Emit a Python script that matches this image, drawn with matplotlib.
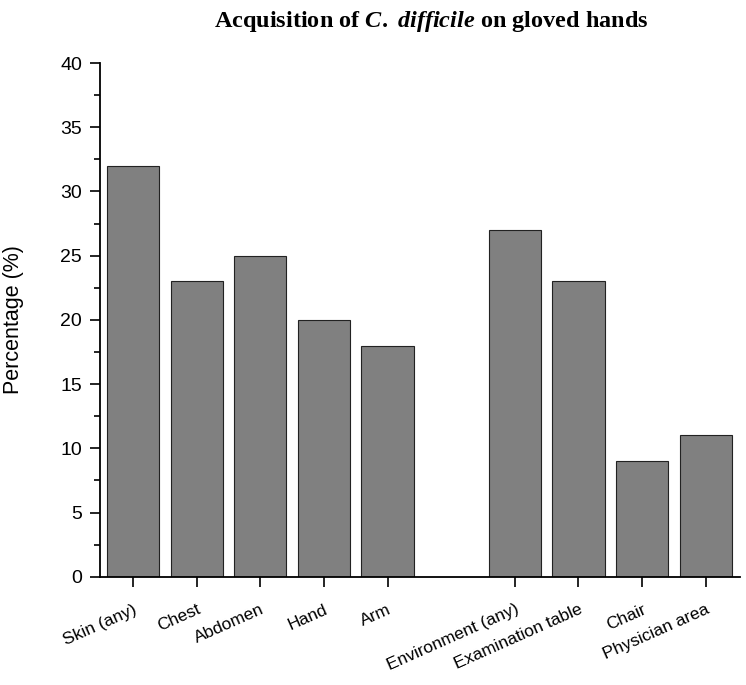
import matplotlib
matplotlib.use("Agg")
import matplotlib.pyplot as plt
from matplotlib.ticker import MultipleLocator

categories = ["Skin (any)", "Chest", "Abdomen", "Hand", "Arm",
              "Environment (any)", "Examination table", "Chair", "Physician area"]
positions = [0, 1, 2, 3, 4, 6, 7, 8, 9]
percent = [32, 23, 25, 20, 18, 27, 23, 9, 11]

plt.rcParams['font.family'] = ['Liberation Sans', 'DejaVu Sans']
plt.rcParams['mathtext.fontset'] = 'custom'
plt.rcParams['mathtext.rm'] = 'Liberation Serif:bold'
plt.rcParams['mathtext.it'] = 'Liberation Serif:italic:bold'

fig = plt.figure(figsize=(7.46, 6.85), dpi=100)
ax = fig.add_axes([0.134, 0.158, 0.858, 0.75])

ax.bar(positions, percent, width=0.82, color="#808080", edgecolor="#222222", linewidth=0.8)

ax.set_xlim(-0.52, 9.54)
ax.set_ylim(0, 40)
ax.yaxis.set_major_locator(MultipleLocator(5))
ax.yaxis.set_minor_locator(MultipleLocator(2.5))
ax.set_xticks(positions)
ax.set_xticklabels(categories, rotation=24, ha="right", rotation_mode="anchor", fontsize=12.5)

for s in ["top", "right"]:
    ax.spines[s].set_visible(False)
for s in ["left", "bottom"]:
    ax.spines[s].set_linewidth(1.3)

ax.tick_params(axis="y", which="major", direction="out", length=7, width=1.2, labelsize=14, pad=6)
ax.tick_params(axis="y", which="minor", direction="out", length=4, width=1.2)
ax.tick_params(axis="x", which="major", direction="out", length=7, width=1.2, pad=11)

ax.set_ylabel("Percentage (%)", fontsize=15.5, labelpad=26)

fig.text(0.578, 0.968, r"Acquisition of $\mathit{C.\ difficile}$ on gloved hands",
         ha="center", va="center", fontsize=17.5, family="Liberation Serif", weight="bold")

fig.savefig("out.png", dpi=100)
